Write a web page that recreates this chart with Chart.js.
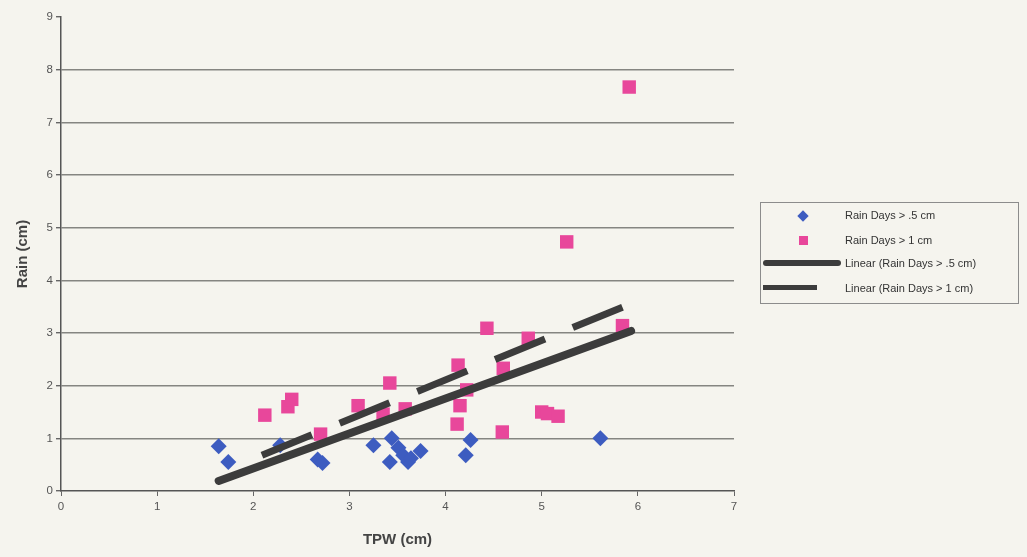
<!DOCTYPE html>
<html>
<head>
<meta charset="utf-8">
<script src="https://cdn.jsdelivr.net/npm/chart.js@4.4.1/dist/chart.umd.min.js"></script>
<style>
  html, body { margin: 0; padding: 0; background: #f5f4ee; }
  .wrap { position: relative; width: 1027px; height: 557px; }
  #rain { position: absolute; left: 0; top: 0; }
  .legend {
    position: absolute; left: 760px; top: 202px; width: 259px; height: 102px;
    border: 1px solid #8c8c8c; box-sizing: border-box;
    font-family: "Liberation Sans", Arial, sans-serif; font-size: 11px; color: #333;
  }
  .item { position: absolute; left: 84px; }
  .sw { position: absolute; }
</style>
</head>
<body>
<div class="wrap">
  <canvas id="rain" width="1027" height="557"></canvas>
  <div class="legend">
    <div class="sw" style="left:38px;top:9px;width:8px;height:8px;background:#3d5cc0;transform:rotate(45deg)"></div>
    <div class="item" style="top:6px">Rain Days &gt; .5 cm</div>
    <div class="sw" style="left:38px;top:33px;width:9px;height:9px;background:#e8479b"></div>
    <div class="item" style="top:31px">Rain Days &gt; 1 cm</div>
    <div class="sw" style="left:2px;top:57px;width:78px;height:6px;background:#3c3c3c;border-radius:3px"></div>
    <div class="item" style="top:54px">Linear (Rain Days &gt; .5 cm)</div>
    <div class="sw" style="left:2px;top:82px;width:54px;height:5px;background:#3c3c3c"></div>
    <div class="item" style="top:79px">Linear (Rain Days &gt; 1 cm)</div>
  </div>
</div>
<script>
// data
const tpwHalf = [1.64, 1.74, 2.28, 2.67, 2.72, 3.25, 3.44, 3.51, 3.42, 3.61, 3.56, 3.74, 3.64, 4.26, 4.21, 5.61];
const rainHalf = [0.85, 0.55, 0.87, 0.60, 0.53, 0.87, 1.00, 0.82, 0.55, 0.55, 0.68, 0.76, 0.62, 0.97, 0.68, 1.00];

const tpwOne = [2.12, 2.36, 2.40, 2.70, 3.09, 3.35, 3.42, 3.58, 4.13, 4.22, 4.15, 4.12, 4.59, 4.60, 4.43, 4.86, 5.00, 5.06, 5.17, 5.84, 5.26, 5.91];
const rainOne = [1.44, 1.60, 1.74, 1.08, 1.62, 1.46, 2.05, 1.56, 2.39, 1.92, 1.62, 1.27, 1.12, 2.33, 3.09, 2.90, 1.50, 1.47, 1.42, 3.14, 4.73, 7.67];

// trendline endpoints
const trendHalfX = [1.64, 5.93];
const trendHalfY = [0.19, 3.04];
const trendOneX = [2.09, 5.84];
const trendOneY = [0.68, 3.49];

const yTicks = [0, 1, 2, 3, 4, 5, 6, 7, 8, 9];
const xTicks = [0, 1, 2, 3, 4, 5, 6, 7];

function pts(xs, ys) {
  return xs.map((x, i) => ({ x: x, y: ys[i] }));
}

const ctx = document.getElementById("rain");

new Chart(ctx, {
  type: "scatter",
  data: {
    datasets: [
      {
        label: "Rain Days > .5 cm",
        data: pts(tpwHalf, rainHalf),
        pointStyle: "rectRot",
        pointRadius: 8,
        backgroundColor: "#3d5cc0",
        borderColor: "#3d5cc0",
        borderWidth: 0,
        order: 2,
      },
      {
        label: "Rain Days > 1 cm",
        data: pts(tpwOne, rainOne),
        pointStyle: "rect",
        pointRadius: 9.5,
        backgroundColor: "#e8479b",
        borderColor: "#e8479b",
        borderWidth: 0,
        order: 2,
      },
      {
        label: "Linear (Rain Days > .5 cm)",
        type: "line",
        data: pts(trendHalfX, trendHalfY),
        borderColor: "#3c3c3c",
        borderWidth: 8,
        borderCapStyle: "round",
        pointRadius: 0,
        order: 0,
      },
      {
        label: "Linear (Rain Days > 1 cm)",
        type: "line",
        data: pts(trendOneX, trendOneY),
        borderColor: "#3c3c3c",
        borderWidth: 7,
        borderDash: [54, 30],
        pointRadius: 0,
        order: 0,
      },
    ],
  },
  options: {
    responsive: false,
    animation: false,
    layout: {
      padding: { left: 10, top: 17, right: 293, bottom: 4 },
    },
    scales: {
      x: {
        type: "linear",
        min: 0,
        max: 7,
        afterBuildTicks: (s) => { s.ticks = xTicks.map((v) => ({ value: v })); },
        afterFit: (s) => { s.height = 62; },
        grid: { drawOnChartArea: false, tickLength: 5, color: "#666" },
        border: { color: "#555", width: 1.5 },
        ticks: {
          color: "#555",
          padding: 4,
          font: { family: "Liberation Sans", size: 11.5 },
        },
        title: {
          display: true,
          text: "TPW (cm)",
          color: "#444",
          padding: { top: 4, bottom: 4 },
          font: { family: "Liberation Sans", size: 15, weight: "bold" },
        },
      },
      y: {
        type: "linear",
        min: 0,
        max: 9,
        afterBuildTicks: (s) => { s.ticks = yTicks.map((v) => ({ value: v })); },
        afterFit: (s) => { s.width = 51; },
        grid: {
          color: (c) => (c.tick && (c.tick.value === 9 || c.tick.value === 0) ? "rgba(0,0,0,0)" : "#858581"),
          tickColor: "#666",
          lineWidth: 1.4,
          tickLength: 5,
        },
        border: { color: "#555", width: 1.5 },
        ticks: {
          color: "#555",
          padding: 3,
          font: { family: "Liberation Sans", size: 11.5 },
        },
        title: {
          display: true,
          text: "Rain (cm)",
          color: "#444",
          padding: { top: 4, bottom: 2 },
          font: { family: "Liberation Sans", size: 15, weight: "bold" },
        },
      },
    },
    plugins: {
      legend: { display: false },
      tooltip: { enabled: false },
    },
  },
});
</script>
</body>
</html>
